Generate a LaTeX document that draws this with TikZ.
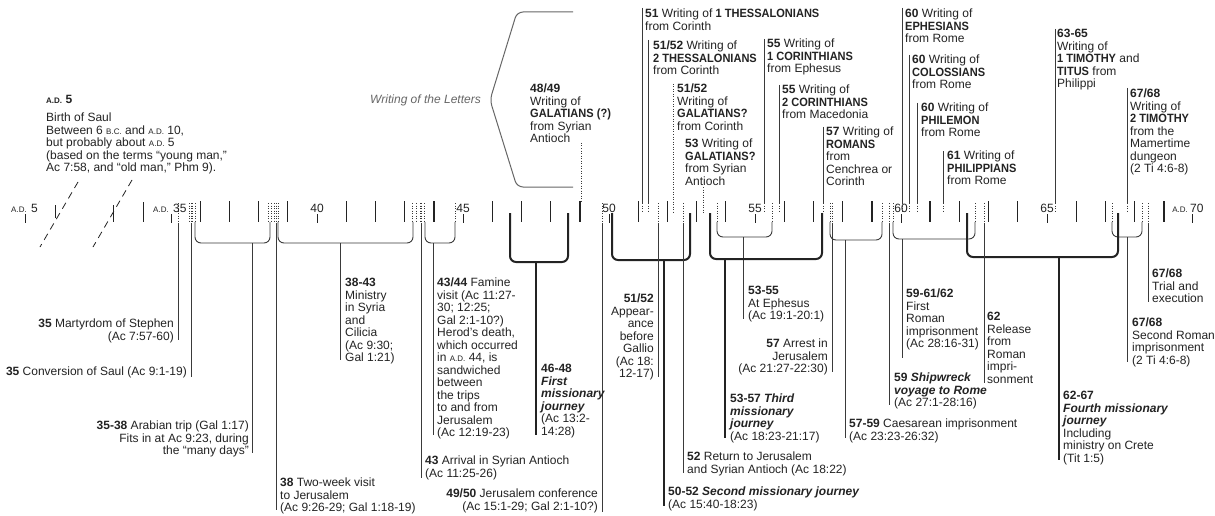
\documentclass[tikz,border=0pt]{standalone}
\usepackage{fontspec}
\setmainfont{Liberation Sans}
\definecolor{ink}{HTML}{232323}
\definecolor{linec}{HTML}{3A3A3A}
\definecolor{softc}{HTML}{666666}
\newcommand\AD{{\fontsize{8}{8}\selectfont A.D.}}
\newcommand\BC{{\fontsize{8}{8}\selectfont B.C.}}
\newcommand\yr[1]{\textbf{#1}}
\newcommand\bk[1]{\scalebox{0.92}[1]{\textbf{#1}}}
\newcommand\jr[1]{\textbf{\textit{#1}}}
% #1 arm style, #2 stem style, #3 x1, #4 x2, #5 ybottom, #6 xstem, #7 yend, #8 ytop
\newcommand\tlbrace[8]{%
  \draw[#1,rounded corners=6pt] (#3,#8) -- (#3,#5) -- (#4,#5) -- (#4,#8);
  \draw[#2] (#6,#5) -- (#6,#7);}
\tikzset{
  txt/.style={inner sep=0pt, align=left, font=\fontsize{12}{12.5}\selectfont, text=ink},
  txtr/.style={txt, align=right},
  lnthin/.style={draw=linec, line width=0.9pt},
  lnmid/.style={draw=ink, line width=1.3pt},
  lnthick/.style={draw=ink, line width=2pt},
  dotl/.style={draw=linec, line width=0.7pt, dash pattern=on 1pt off 1.5pt},
  tickn/.style={draw=ink, line width=0.9pt},
  tickb/.style={draw=ink, line width=1.6pt},
  brk/.style={draw=ink, line width=0.8pt, dash pattern=on 7pt off 5pt},
  softline/.style={draw=softc, line width=1pt},
}
\begin{document}
\begin{tikzpicture}[x=1pt,y=-1pt]
\useasboundingbox (0,0) rectangle (1215,516);
\fill[white] (0,0) rectangle (1215,516);

% ---------- axis ----------
\foreach \yy in {36,37,38,39,41,46,48,51,52,53,54,56,64,66,68}
  \draw[tickn] ({317+(\yy-40)*29.2},201) -- ({317+(\yy-40)*29.2},222);
\foreach \yy in {42,43,44,47,49,57,58,59,61,62,63,67,69}
  \draw[tickb] ({317+(\yy-40)*29.2},201) -- ({317+(\yy-40)*29.2},222);
\foreach \yy in {40,45,50,55,60,65}{
  \draw[tickn] ({317+(\yy-40)*29.2},214) -- ({317+(\yy-40)*29.2},223);
  \node[txt, anchor=base] (lab\yy) at ({317+(\yy-40)*29.2},212) {\yy};
}
\draw[tickn] (25,214) -- (25,223);
\draw[tickn] (171,214) -- (171,223);
\draw[tickn] (1192,214) -- (1192,223);
\draw[tickn] (55,205) -- (55,218);
\draw[tickn] (113,205) -- (113,222);
\draw[tickn] (143,202) -- (143,222);
\node[txt, anchor=base east] (ad5) at (27,212) {\AD};
\node[txt, anchor=base west] (n5) at (31,212) {5};
\node[txt, anchor=base east] (ad35) at (169,212) {\AD};
\node[txt, anchor=base west] (n35) at (173,212) {35};
\node[txt, anchor=base east] (ad70) at (1188,212) {\AD};
\node[txt, anchor=base west] (n70) at (1190,212) {70};
\draw[brk] (78,182) -- (40,247);
\draw[brk] (132,180) -- (93,247);

% ---------- birth of Saul ----------
\node[txt, anchor=north west] (birthhd) at (46,95) {\textbf{\AD\ 5}};
\node[txt, anchor=north west] (birth) at (46,113) {Birth of Saul\\Between 6 \BC\ and \AD\ 10,\\but probably about \AD\ 5\\(based on the terms ``young man,''\\Ac 7:58, and ``old man,'' Phm 9).};

% ---------- writing of the letters ----------
\draw[softline, rounded corners=6pt] (573,12) -- (517,12) -- (490,100) -- (517,187) -- (573,187);
\node[txt, anchor=east, text=softc, font=\fontsize{12}{12.5}\selectfont\itshape] (wl) at (481,100) {Writing of the Letters};

\node[txt,anchor=north west] (w48) at (530,84) {\yr{48/49}\\Writing of\\\bk{GALATIANS (?)}\\from Syrian\\Antioch};
\node[txt,anchor=north west] (w51a) at (645,9) {\yr{51} Writing of \bk{1 THESSALONIANS}\\from Corinth};
\node[txt,anchor=north west] (w51b) at (653,41) {\yr{51/52} Writing of\\\bk{2 THESSALONIANS}\\from Corinth};
\node[txt,anchor=north west] (w51c) at (677,84) {\yr{51/52}\\Writing of\\\bk{GALATIANS?}\\from Corinth};
\node[txt,anchor=north west] (w53) at (685,139) {\yr{53} Writing of\\\bk{GALATIANS?}\\from Syrian\\Antioch};
\node[txt,anchor=north west] (w55a) at (767,39) {\yr{55} Writing of\\\bk{1 CORINTHIANS}\\from Ephesus};
\node[txt,anchor=north west] (w55b) at (782,85) {\yr{55} Writing of\\\bk{2 CORINTHIANS}\\from Macedonia};
\node[txt,anchor=north west] (w57) at (826,127) {\yr{57} Writing of\\\bk{ROMANS}\\from\\Cenchrea or\\Corinth};
\node[txt,anchor=north west] (w60a) at (905,9) {\yr{60} Writing of\\\bk{EPHESIANS}\\from Rome};
\node[txt,anchor=north west] (w60b) at (912,55) {\yr{60} Writing of\\\bk{COLOSSIANS}\\from Rome};
\node[txt,anchor=north west] (w60c) at (921,103) {\yr{60} Writing of\\\bk{PHILEMON}\\from Rome};
\node[txt,anchor=north west] (w61) at (947,151) {\yr{61} Writing of\\\bk{PHILIPPIANS}\\from Rome};
\node[txt,anchor=north west] (w63) at (1057,29) {\yr{63-65}\\Writing of\\\bk{1 TIMOTHY} and\\\bk{TITUS} from\\Philippi};
\node[txt,anchor=north west] (w67) at (1130,89) {\yr{67/68}\\Writing of\\\bk{2 TIMOTHY}\\from the\\Mamertime\\dungeon\\(2 Ti 4:6-8)};

% top lines
\foreach \x/\ya in {642/8,648/40,764/39,779/85,823/127,902/8,909/55,917/103,943/151,1055/29,1127/88}{
  \draw[lnthin] (\x,\ya) -- (\x,203);
  \draw[dotl] (\x,203) -- (\x,213);
}
\draw[dotl] (581,143) -- (581,203);
\draw[dotl] (673,84) -- (673,213);
\draw[dotl] (703,187) -- (703,213);

% ---------- brackets ----------
\tlbrace{lnthin}{lnthin}{195}{270}{243}{252}{453}{222}
\tlbrace{lnthin}{lnthin}{278}{413}{243}{340}{360}{222}
\tlbrace{lnthin}{lnthin}{425}{455}{243}{433}{435}{222}
\tlbrace{lnthin}{lnthin}{717}{772}{237}{743}{319}{222}
\tlbrace{lnthin}{lnthin}{830}{882}{240}{845}{438}{222}
\tlbrace{lnthin}{lnthin}{893}{975}{239}{902}{358}{222}
\tlbrace{lnthin}{lnthin}{1112}{1142}{237}{1127}{362}{222}
\tlbrace{lnthick}{lnmid}{510}{568}{262}{536}{435}{213}
\tlbrace{lnthick}{lnmid}{612}{690}{260}{664}{506}{213}
\tlbrace{lnthick}{lnmid}{710}{822}{259}{725}{438}{213}
\tlbrace{lnthick}{lnmid}{967}{1118}{257}{1059}{460}{213}
\foreach \x in {189,192,195,268,271,274,278,412,416,420,424,455,717,772,830,882,893,975,1112,1142}
  \draw[dotl] (\x,203) -- (\x,222);

% direct lines from the axis
\foreach \x/\yb in {178/340,191/377,276/510,421/478,602/512,658/377,683/473,832/372,889/405,984/383,1148/302}{
  \draw[dotl] (\x,203) -- (\x,224);
  \draw[lnthin] (\x,224) -- (\x,\yb);
}

% ---------- events below ----------
\node[txtr,anchor=north east] (e35a) at (174,319) {\yr{35} Martyrdom of Stephen\\(Ac 7:57-60)};
\node[txtr,anchor=north east] (e35b) at (187,367) {\yr{35} Conversion of Saul (Ac 9:1-19)};
\node[txtr,anchor=north east] (e3538) at (249,421) {\yr{35-38} Arabian trip (Gal 1:17)\\Fits in at Ac 9:23, during\\the ``many days''};
\node[txt,anchor=north west] (e38) at (280,478) {\yr{38} Two-week visit\\to Jerusalem\\(Ac 9:26-29; Gal 1:18-19)};
\node[txt,anchor=north west] (e3843) at (345,278) {\yr{38-43}\\Ministry\\in Syria\\and\\Cilicia\\(Ac 9:30;\\Gal 1:21)};
\node[txt,anchor=north west] (e4344) at (437,278) {\yr{43/44} Famine\\visit (Ac 11:27-\\30; 12:25;\\Gal 2:1-10?)\\Herod's death,\\which occurred\\in \AD\ 44, is\\sandwiched\\between\\the trips\\to and from\\Jerusalem\\(Ac 12:19-23)};
\node[txt,anchor=north west] (e43) at (425,456) {\yr{43} Arrival in Syrian Antioch\\(Ac 11:25-26)};
\node[txt,anchor=north west] (e4648) at (541,364) {\yr{46-48}\\\jr{First}\\\jr{missionary}\\\jr{journey}\\(Ac 13:2-\\14:28)};
\node[txtr,anchor=north east] (e4950) at (598,489) {\yr{49/50} Jerusalem conference\\(Ac 15:1-29; Gal 2:1-10?)};
\node[txtr,anchor=north east] (e5152) at (654,294) {\yr{51/52}\\Appear-\\ance\\before\\Gallio\\(Ac 18:\\12-17)};
\node[txt,anchor=north west] (e5052) at (668,487) {\yr{50-52} \jr{Second missionary journey}\\(Ac 15:40-18:23)};
\node[txt,anchor=north west] (e52) at (687,452) {\yr{52} Return to Jerusalem\\and Syrian Antioch (Ac 18:22)};
\node[txt,anchor=north west] (e5357) at (730,394) {\yr{53-57} \jr{Third}\\\jr{missionary}\\\jr{journey}\\(Ac 18:23-21:17)};
\node[txt,anchor=north west] (e5355) at (748,286) {\yr{53-55}\\At Ephesus\\(Ac 19:1-20:1)};
\node[txtr,anchor=north east] (e57) at (828,339) {\yr{57} Arrest in\\Jerusalem\\(Ac 21:27-22:30)};
\node[txt,anchor=north west] (e5759) at (849,419) {\yr{57-59} Caesarean imprisonment\\(Ac 23:23-26:32)};
\node[txt,anchor=north west] (e59) at (894,373) {\yr{59} \jr{Shipwreck}\\\jr{voyage to Rome}\\(Ac 27:1-28:16)};
\node[txt,anchor=north west] (e5961) at (906,289) {\yr{59-61/62}\\First\\Roman\\imprisonment\\(Ac 28:16-31)};
\node[txt,anchor=north west] (e62) at (987,312) {\yr{62}\\Release\\from\\Roman\\impri-\\sonment};
\node[txt,anchor=north west] (e6267) at (1063,391) {\yr{62-67}\\\jr{Fourth missionary}\\\jr{journey}\\Including\\ministry on Crete\\(Tit 1:5)};
\node[txt,anchor=north west] (e6768a) at (1152,269) {\yr{67/68}\\Trial and\\execution};
\node[txt,anchor=north west] (e6768b) at (1132,318) {\yr{67/68}\\Second Roman\\imprisonment\\(2 Ti 4:6-8)};
\end{tikzpicture}
\end{document}
